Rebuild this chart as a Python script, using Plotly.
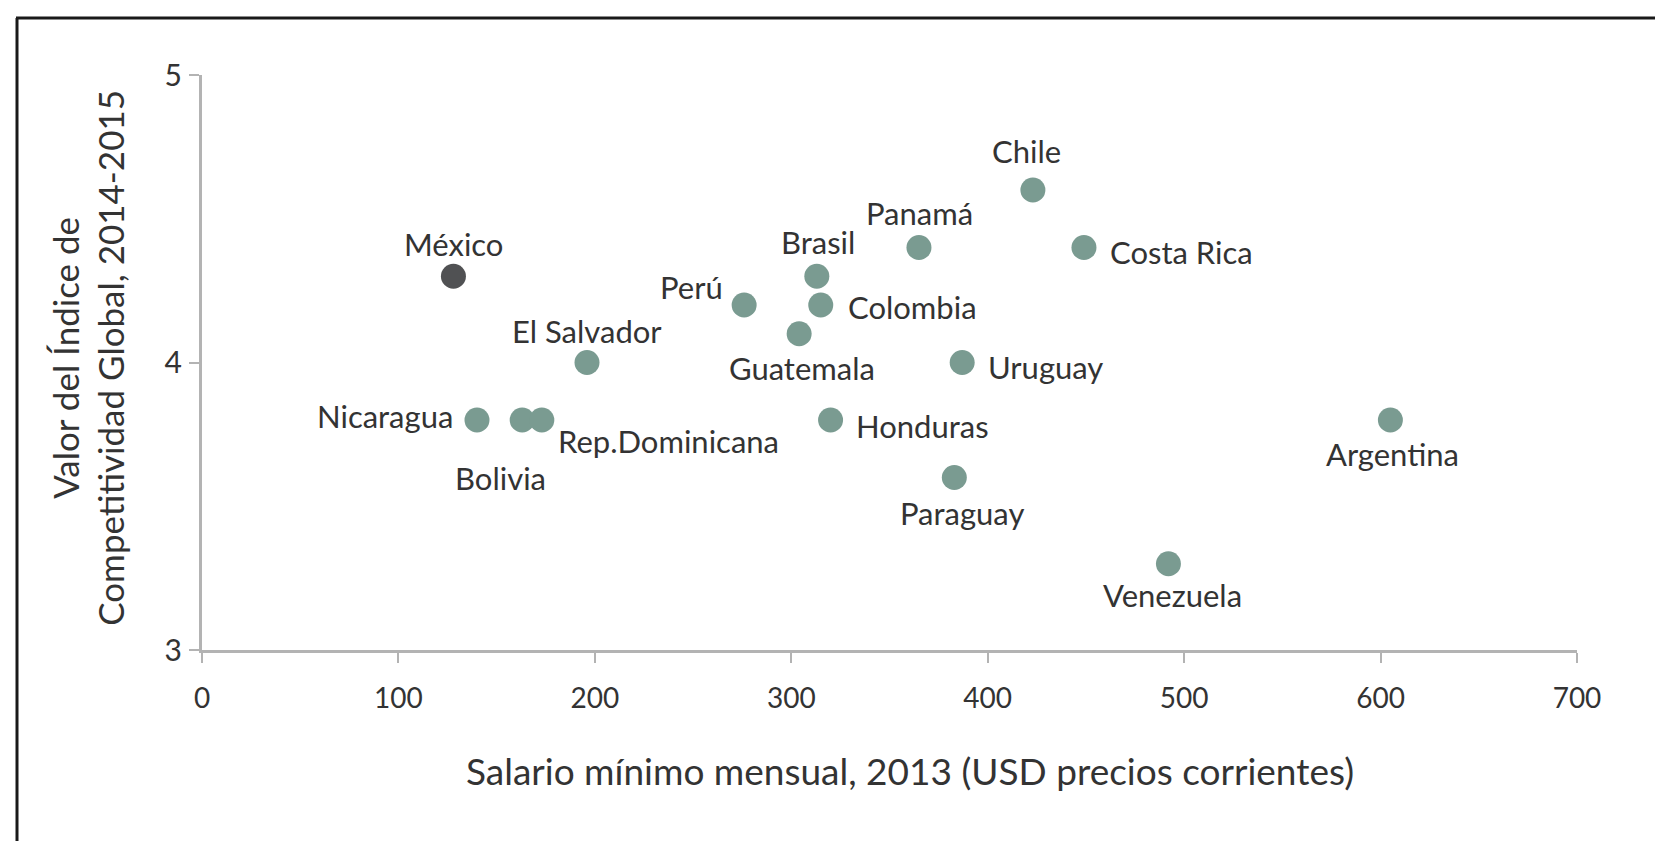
import plotly.graph_objects as go

countries = ["México", "Nicaragua", "Bolivia", "Rep.Dominicana", "El Salvador", "Perú",
             "Guatemala", "Brasil", "Colombia", "Honduras", "Panamá", "Uruguay",
             "Paraguay", "Chile", "Costa Rica", "Venezuela", "Argentina"]
salario = [128, 140, 163, 173, 196, 276, 304, 313, 315, 320, 365, 387, 383, 423, 449, 492, 605]
indice = [4.3, 3.8, 3.8, 3.8, 4.0, 4.2, 4.1, 4.3, 4.2, 3.8, 4.4, 4.0, 3.6, 4.6, 4.4, 3.3, 3.8]
x_ticks = [0, 100, 200, 300, 400, 500, 600, 700]
y_ticks = [3, 4, 5]

highlight = "México"
TEAL = "#7a9b91"
DARK = "#505153"
TXT = "#333333"
FONT = "Lato"

# label placement (style): (xanchor, xshift, yshift)
label_pos = {
    "México": ("center", 0, 32),
    "Nicaragua": ("right", -22, 4),
    "Bolivia": ("center", -22, -58),
    "Rep.Dominicana": ("left", 14, -21),
    "El Salvador": ("center", 0, 32),
    "Perú": ("right", -19, 18),
    "Guatemala": ("center", 3, -34),
    "Brasil": ("center", 1, 34),
    "Colombia": ("left", 25, -2),
    "Honduras": ("left", 23, -6),
    "Panamá": ("center", 1, 35),
    "Uruguay": ("left", 24, -4),
    "Paraguay": ("center", 8, -35),
    "Chile": ("center", -6, 39),
    "Costa Rica": ("left", 24, -4),
    "Venezuela": ("center", 4, -31),
    "Argentina": ("center", 2, -34),
}

colors = [DARK if c == highlight else TEAL for c in countries]

fig = go.Figure()
fig.add_trace(go.Scatter(
    x=salario, y=indice, mode="markers",
    marker=dict(size=25, color=colors, line=dict(width=0)),
    text=countries, hoverinfo="text+x+y", showlegend=False,
))

annotations = []
for c, xv, yv in zip(countries, salario, indice):
    xa, xs, ys = label_pos[c]
    annotations.append(dict(
        x=xv, y=yv, xref="x", yref="y", text=c, showarrow=False,
        xanchor=xa, yanchor="middle", xshift=xs, yshift=ys,
        font=dict(family=FONT, size=31, color=TXT),
    ))

# axis titles
annotations.append(dict(
    x=0.5146, y=-0.2087, xref="paper", yref="paper",
    text="Salario mínimo mensual, 2013 (USD precios corrientes)",
    showarrow=False, xanchor="center", yanchor="middle",
    font=dict(family=FONT, size=37, color=TXT),
))
annotations.append(dict(
    x=-0.083, y=0.508, xref="paper", yref="paper",
    text="Valor del Índice de<br>Competitividad Global, 2014-2015",
    showarrow=False, xanchor="center", yanchor="middle", textangle=-90,
    font=dict(family=FONT, size=35, color=TXT),
))

L, R, T, B = 194, 94, 67, 199
W, H = 1663, 841
pw, ph = W - L - R, H - T - B

def px(xp):
    return (xp - L) / pw

def py(yp):
    return (H - B - yp) / ph

shapes = [
    dict(type="line", xref="paper", yref="paper", x0=px(8), x1=px(1663), y0=py(10), y1=py(10),
         line=dict(color="#1a1a1a", width=3)),
    dict(type="line", xref="paper", yref="paper", x0=px(9), x1=px(9), y0=py(10), y1=py(841),
         line=dict(color="#1a1a1a", width=3)),
]

fig.update_layout(
    width=W, height=H,
    margin=dict(l=L, r=R, t=T, b=B),
    paper_bgcolor="white", plot_bgcolor="white",
    annotations=annotations, shapes=shapes,
    font=dict(family=FONT, color=TXT),
)
fig.update_xaxes(
    range=[0, 700], tickvals=x_ticks, ticktext=[str(v) for v in x_ticks],
    showgrid=False, zeroline=False, showline=True, linecolor="#b3b3b3", linewidth=3,
    ticks="outside", ticklen=10, tickwidth=2, tickcolor="#b3b3b3",
    tickfont=dict(family=FONT, size=28, color=TXT), ticklabelstandoff=11,
)
fig.update_yaxes(
    range=[3, 5], tickvals=y_ticks, ticktext=[str(v) for v in y_ticks],
    showgrid=False, zeroline=False, showline=True, linecolor="#b3b3b3", linewidth=3,
    ticks="outside", ticklen=10, tickwidth=2, tickcolor="#b3b3b3",
    tickfont=dict(family=FONT, size=30, color=TXT), ticklabelstandoff=1,
)

fig.write_html("out.html")
